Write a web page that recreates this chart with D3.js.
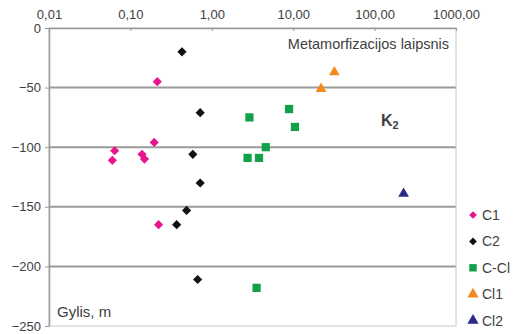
<!DOCTYPE html>
<html>
<head>
<meta charset="utf-8">
<script src="https://cdn.jsdelivr.net/npm/d3@7"></script>
<style>
  body { margin: 0; background: #fff; }
  svg text { font-family: "Liberation Sans", Arial, sans-serif; fill: #404040; }
</style>
</head>
<body>
<div id="chart"></div>
<script>
// values: [x (log), depth]
const seriesNames = ['C1', 'C2', 'C-Cl', 'Cl1', 'Cl2'];
const c1 = [[0.214, -45], [0.064, -103], [0.060, -111], [0.139, -106], [0.149, -110], [0.196, -96], [0.222, -165]];
const c2 = [[0.43, -20], [0.72, -71], [0.585, -106], [0.72, -130], [0.49, -153], [0.37, -165], [0.67, -211]];
const cCl = [[2.9, -75], [2.75, -109], [3.8, -109], [4.6, -100], [8.9, -68], [10.5, -83], [3.55, -218]];
const cl1 = [[32, -37], [22, -51]];
const cl2 = [[227, -139]];
const xTicks = [0.01, 0.1, 1, 10, 100, 1000];
const yTicks = [0, -50, -100, -150, -200, -250];

const series = [
  { name: seriesNames[0], data: c1, color: '#e8158c', shape: 'diamond' },
  { name: seriesNames[1], data: c2, color: '#111111', shape: 'diamond' },
  { name: seriesNames[2], data: cCl, color: '#12a04a', shape: 'square' },
  { name: seriesNames[3], data: cl1, color: '#f28a1e', shape: 'triangle' },
  { name: seriesNames[4], data: cl2, color: '#2b2a86', shape: 'triangle' }
];

const margin = { top: 28, right: 59, bottom: 8, left: 49 };
const W = 515, H = 334;
const width = W - margin.left - margin.right;
const height = H - margin.top - margin.bottom;

const svg = d3.select('#chart').append('svg')
  .attr('width', W)
  .attr('height', H);

const g = svg.append('g')
  .attr('transform', 'translate(' + margin.left + ',' + margin.top + ')');

const x = d3.scaleLog().domain([0.01, 1000]).range([0, width]);
const y = d3.scaleLinear().domain([0, -250]).range([0, height]);

// gridlines
g.selectAll('.grid')
  .data(yTicks.filter(d => d !== 0 && d !== -250))
  .enter().append('line')
  .attr('x1', 0).attr('x2', width)
  .attr('y1', d => y(d)).attr('y2', d => y(d))
  .attr('stroke', '#9a9a9a')
  .attr('stroke-width', 2);

// frame
g.append('rect')
  .attr('width', width).attr('height', height)
  .attr('fill', 'none')
  .attr('stroke', '#c8c8c8')
  .attr('stroke-width', 1);

// top axis
const xAxis = g.append('g')
  .call(d3.axisTop(x).tickValues(xTicks)
    .tickFormat(d => d3.format('.2f')(d).replace('.', ','))
    .tickSizeInner(-3).tickSizeOuter(0).tickPadding(9));
xAxis.select('.domain').attr('stroke', '#9a9a9a').attr('stroke-width', 1.5);
xAxis.selectAll('.tick line').attr('stroke', '#9a9a9a');
xAxis.selectAll('.tick text').attr('font-size', 13).attr('fill', '#404040');

// left axis
const yAxis = g.append('g')
  .call(d3.axisLeft(y).tickValues(yTicks).tickSizeInner(4).tickSizeOuter(0).tickPadding(4));
yAxis.select('.domain').attr('stroke', '#9a9a9a').attr('stroke-width', 1.5);
yAxis.selectAll('.tick line').attr('stroke', '#9a9a9a');
yAxis.selectAll('.tick text').attr('font-size', 13).attr('fill', '#404040');

// diamonds are squares turned 45 degrees
const shapeType = { diamond: d3.symbolSquare, square: d3.symbolSquare, triangle: d3.symbolTriangle };
const shapeSize = { diamond: 42, square: 68, triangle: 50 };
const shapeRot = { diamond: 45, square: 0, triangle: 0 };

series.forEach(s => {
  g.selectAll(null)
    .data(s.data)
    .enter().append('path')
    .attr('d', d3.symbol().type(shapeType[s.shape]).size(shapeSize[s.shape]))
    .attr('transform', d => 'translate(' + x(d[0]) + ',' + y(d[1]) + ') rotate(' + shapeRot[s.shape] + ')')
    .attr('fill', s.color);
});

// labels inside plot
g.append('text')
  .attr('x', width - 7).attr('y', 21)
  .attr('text-anchor', 'end')
  .attr('font-size', 14.5)
  .text('Metamorfizacijos laipsnis');

const k = g.append('text')
  .attr('x', 332).attr('y', 98)
  .attr('font-size', 16)
  .attr('font-weight', 'bold');
k.append('tspan').text('K');
k.append('tspan').attr('font-size', 11).attr('dy', 3).text('2');

g.append('text')
  .attr('x', 8).attr('y', 289)
  .attr('font-size', 15)
  .text('Gylis, m');

// legend
const legend = svg.append('g')
  .attr('transform', 'translate(473,215)');
const item = legend.selectAll('g')
  .data(series)
  .enter().append('g')
  .attr('transform', (d, i) => 'translate(0,' + (i * 26.4) + ')');
item.append('path')
  .attr('d', d => d3.symbol().type(shapeType[d.shape]).size(d.shape === 'diamond' ? 30 : 55)())
  .attr('transform', d => 'rotate(' + shapeRot[d.shape] + ')')
  .attr('fill', d => d.color);
item.append('text')
  .attr('x', 9).attr('y', 5)
  .attr('font-size', 14)
  .text(d => d.name);
</script>
</body>
</html>
